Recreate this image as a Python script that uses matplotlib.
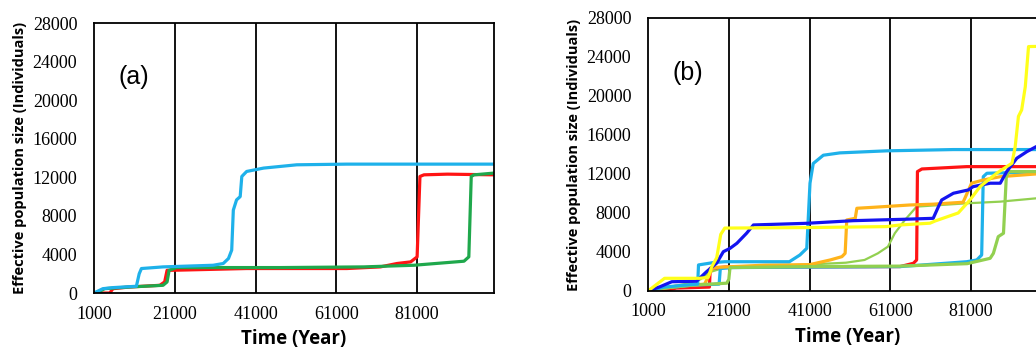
import matplotlib
matplotlib.use("Agg")
import matplotlib.pyplot as plt

# ---- panel (a) ----
a_blue_x = [1000, 3200, 5700, 11500, 12200, 12750, 18100, 30500, 33000, 34300, 35100, 35500, 36300, 37200, 37600, 38800, 43000, 51200, 63600, 100000]
a_blue_y = [0, 450, 560, 700, 2000, 2540, 2710, 2880, 3060, 3580, 4450, 8600, 9660, 10000, 12090, 12610, 12960, 13300, 13370, 13370]

a_red_x = [1000, 4900, 5700, 9850, 17300, 18500, 19100, 20600, 38800, 63600, 71900, 76000, 79400, 81000, 81700, 82700, 88500, 100000]
a_red_y = [0, 0, 450, 625, 800, 1150, 2360, 2360, 2540, 2540, 2710, 3060, 3230, 3750, 12090, 12260, 12330, 12260]

a_green_x = [1000, 2400, 3650, 9850, 18100, 19100, 19600, 21400, 47100, 67800, 80200, 88500, 92600, 93800, 94400, 95100, 100000]
a_green_y = [0, 170, 450, 625, 800, 1150, 2360, 2640, 2640, 2710, 2880, 3160, 3300, 3750, 12090, 12260, 12440]

# ---- panel (b) ----
b_yellow_x = [1000, 5100, 13800, 15900, 16800, 18000, 19000, 20000, 40000, 60000, 63400, 70800, 72100, 77800, 80700, 83200, 87400, 91100, 91900, 92700, 93500, 94400, 95200, 100000]
b_yellow_y = [0, 1300, 1300, 1400, 2500, 3400, 5800, 6450, 6500, 6600, 6770, 6950, 7180, 8000, 9330, 10700, 12100, 13100, 14800, 17900, 18560, 20950, 25060, 25100]

b_dblue_x = [1000, 4000, 6900, 13000, 15500, 18000, 19650, 21300, 23000, 25400, 27100, 40300, 51850, 64200, 71600, 72900, 73700, 76600, 80300, 81500, 85700, 88200, 89800, 92300, 94800, 97100, 100000]
b_dblue_y = [0, 440, 950, 1000, 1980, 2860, 4030, 4370, 4890, 5920, 6770, 6940, 7210, 7350, 7450, 8650, 9330, 10020, 10360, 10700, 11050, 11050, 12240, 13610, 14290, 14800, 15000]

b_lblue1_x = [1000, 5000, 10000, 13300, 13500, 17000, 20000, 36000, 38600, 40300, 41100, 41900, 44400, 48500, 60100, 76600, 100000]
b_lblue1_y = [0, 400, 600, 700, 2670, 2900, 3000, 3000, 3690, 4370, 11050, 13070, 13920, 14160, 14370, 14500, 14500]

b_lblue2_x = [1000, 5000, 12000, 18600, 18900, 22000, 40000, 63400, 79900, 82400, 83600, 84000, 84900, 100000]
b_lblue2_y = [0, 300, 600, 700, 2300, 2400, 2450, 2500, 3000, 3180, 3690, 11720, 12070, 12240]

b_red_x = [1000, 5000, 8000, 16200, 16400, 20000, 63400, 66700, 67500, 67700, 68800, 79900, 100000]
b_red_y = [0, 0, 300, 400, 2330, 2450, 2500, 2840, 3180, 12240, 12510, 12750, 12750]

b_orange_x = [1000, 8000, 15000, 17000, 30000, 41000, 46100, 49000, 49800, 50200, 52300, 52700, 56800, 65900, 71600, 79000, 81100, 84000, 88200, 97100, 100000]
b_orange_y = [0, 500, 700, 2400, 2650, 2700, 3180, 3520, 3860, 7280, 7450, 8480, 8580, 8820, 8900, 9100, 11050, 11380, 11720, 12000, 12050]

b_lgreen1_x = [1000, 6000, 10000, 14000, 16000, 20000, 40000, 50000, 54600, 57900, 60400, 62100, 64600, 67500, 79900, 88200, 97100, 100000]
b_lgreen1_y = [0, 400, 700, 1200, 1900, 2400, 2700, 2900, 3180, 3860, 4550, 5920, 7280, 8650, 8990, 9160, 9500, 9550]

b_lgreen2_x = [1000, 5000, 12000, 20500, 21000, 21300, 40000, 63400, 80000, 85700, 86500, 87700, 89000, 89700, 90300, 100000]
b_lgreen2_y = [0, 300, 600, 800, 1200, 2400, 2500, 2550, 2800, 3350, 3860, 5570, 5920, 11720, 12240, 12240]

x_ticks = [1000, 21000, 41000, 61000, 81000]
y_ticks = [0, 4000, 8000, 12000, 16000, 20000, 24000, 28000]

fig = plt.figure(figsize=(10.36, 3.51), dpi=100)
ax_a = fig.add_axes([0.0907, 0.1652, 0.386, 0.769])
ax_b = fig.add_axes([0.6255, 0.171, 0.386, 0.778])

lw = 2.3
ax_a.plot(a_red_x, a_red_y, color='#ff1414', lw=lw)
ax_a.plot(a_green_x, a_green_y, color='#1fa84c', lw=lw)
ax_a.plot(a_blue_x, a_blue_y, color='#1eb1ea', lw=lw)

ax_b.plot(b_lgreen1_x, b_lgreen1_y, color='#92d050', lw=1.6)
ax_b.plot(b_red_x, b_red_y, color='#ff1414', lw=lw)
ax_b.plot(b_lblue2_x, b_lblue2_y, color='#1eb1ea', lw=lw)
ax_b.plot(b_orange_x, b_orange_y, color='#ffb31a', lw=lw)
ax_b.plot(b_lgreen2_x, b_lgreen2_y, color='#92d050', lw=lw)
ax_b.plot(b_lblue1_x, b_lblue1_y, color='#1eb1ea', lw=lw)
ax_b.plot(b_dblue_x, b_dblue_y, color='#1414f0', lw=lw)
ax_b.plot(b_yellow_x, b_yellow_y, color='#ffff1a', lw=lw)

for ax, lab in [(ax_a, '(a)'), (ax_b, '(b)')]:
    ax.set_xlim(1000, 100000)
    ax.set_ylim(0, 28000)
    ax.set_xticks(x_ticks)
    ax.set_yticks(y_ticks)
    ax.set_xticklabels([str(v) for v in x_ticks], family='Liberation Serif', fontsize=13)
    ax.set_yticklabels([str(v) for v in y_ticks], family='Liberation Serif', fontsize=13)
    ax.tick_params(axis='both', length=0)
    ax.tick_params(axis='y', pad=12)
    ax.tick_params(axis='x', pad=9)
    for g in x_ticks[1:]:
        ax.axvline(g, color='black', lw=1.3, zorder=0)
    for sp in ax.spines.values():
        sp.set_linewidth(1.3)
    ax.set_xlabel('Time (Year)', family='Open Sans', fontweight='bold', fontsize=13.5, labelpad=5)
    ax.set_ylabel('Effective population size (Individuals)', family='Open Sans',
                  fontweight='bold', fontsize=10.5, labelpad=4)
    ax.text(0.1, 0.8, lab, transform=ax.transAxes, family='Liberation Sans',
            fontsize=18, ha='center', va='center')

fig.savefig('out.png', dpi=100)
